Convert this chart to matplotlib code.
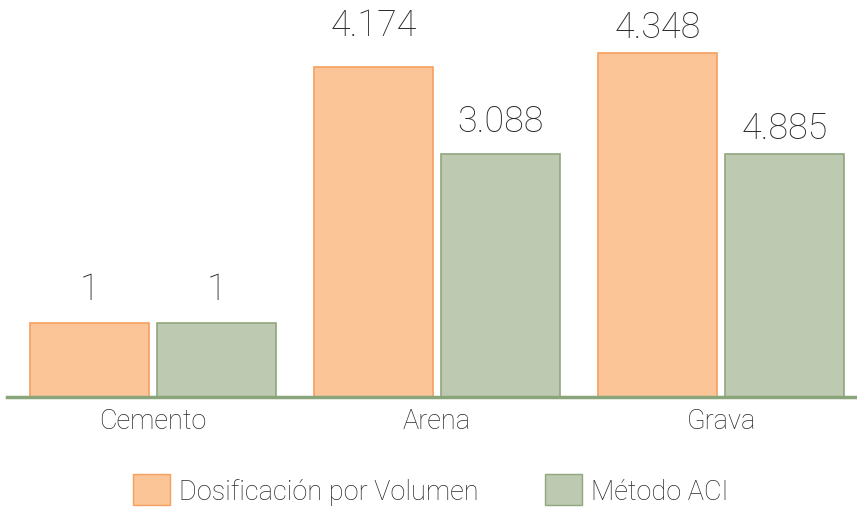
import numpy as np
import matplotlib.pyplot as plt
from matplotlib.patches import Patch

plt.rcParams['font.family'] = ['Roboto', 'DejaVu Sans']

# datos
categorias = ['Cemento', 'Arena', 'Grava']
volumen = [1, 4.174, 4.348]
aci = [1, 3.088, 3.088]          # altura dibujada en la imagen original
volumen_txt = ['1', '4.174', '4.348']
aci_txt = ['1', '3.088', '4.885']
series = ['Dosificación por Volumen', 'Método ACI']

# desplazamiento de etiquetas (px) como en el original
off_vol = [24, 32, 16]
off_aci = [24, 23, 16]

c_nar, e_nar = '#FBC597', '#F5A060'
c_ver, e_ver = '#BDC9B0', '#8FA67E'
txt = '#2a2a2a'

fig = plt.figure(figsize=(8.57, 5.10), dpi=100)
ax = fig.add_axes([7 / 857, 0.22, 850 / 857, 0.78])

x = np.arange(len(categorias))
w = 0.419
d = 0.2235
b1 = ax.bar(x - d, volumen, w, color=c_nar, edgecolor=e_nar, linewidth=1.2)
b2 = ax.bar(x + d, aci, w, color=c_ver, edgecolor=e_ver, linewidth=1.2)

for bars, labs, offs in [(b1, volumen_txt, off_vol), (b2, aci_txt, off_aci)]:
    for r, t, o in zip(bars, labs, offs):
        ax.annotate(t, (r.get_x() + r.get_width() / 2, r.get_height()),
                    xytext=(0, o * 0.72), textcoords='offset points',
                    ha='center', va='baseline', fontsize=25.8, color=txt,
                    fontweight='light', annotation_clip=False)

ax.set_xlim(-0.514, 2.479)
ax.set_ylim(0.082, 5.016)
ax.set_xticks(x)
ax.set_xticklabels(categorias, fontsize=19.5, color=txt, fontweight='light')
ax.tick_params(axis='x', length=0, pad=7)
ax.set_yticks([])
for s in ['top', 'right', 'left']:
    ax.spines[s].set_visible(False)
ax.spines['bottom'].set_color('#8AA57A')
ax.spines['bottom'].set_linewidth(2.5)

handles = [Patch(facecolor=c_nar, edgecolor=e_nar, label=series[0]),
           Patch(facecolor=c_ver, edgecolor=e_ver, label=series[1])]
leg = fig.legend(handles=handles, loc='lower center', ncol=2, frameon=False,
                 bbox_to_anchor=(0.503, -0.04), fontsize=19.5,
                 handlelength=1.37, handleheight=1.37, handletextpad=0.33,
                 columnspacing=2.45)
for t in leg.get_texts():
    t.set_color(txt)
    t.set_fontweight('light')

fig.savefig('out.png', dpi=100)
